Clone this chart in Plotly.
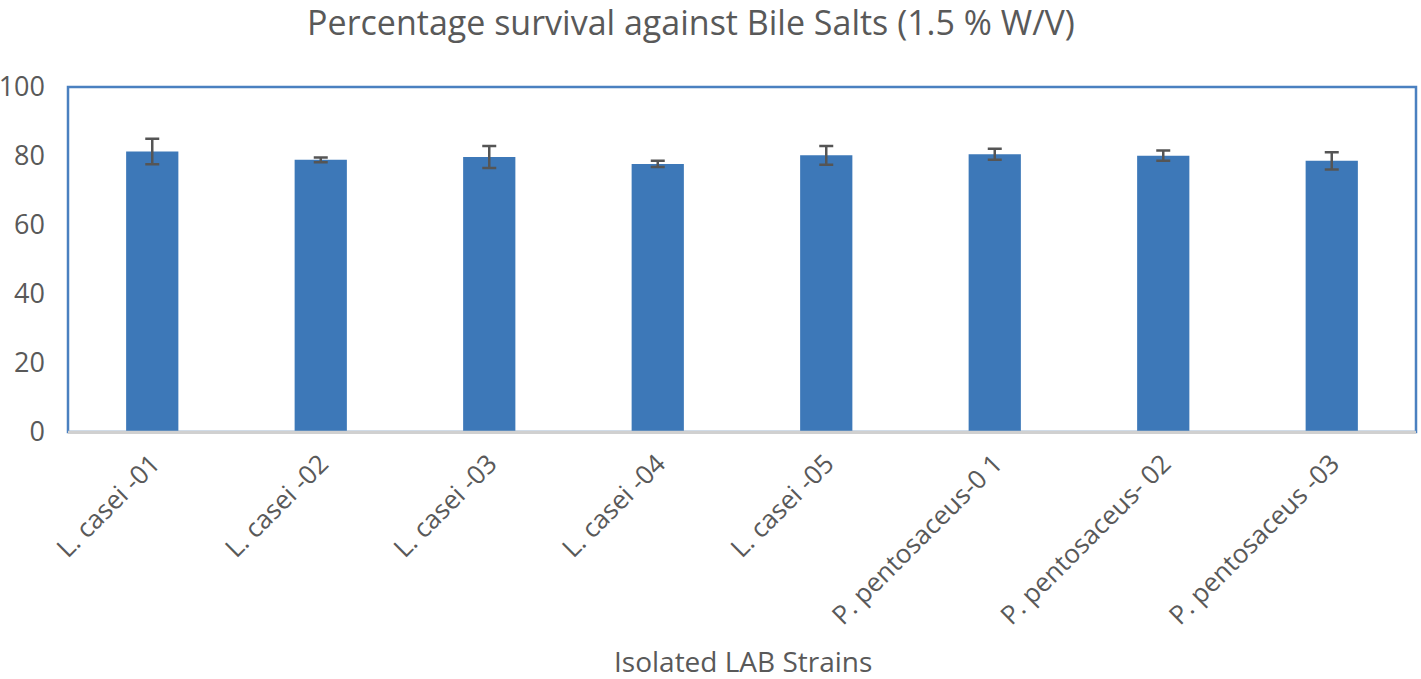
import plotly.graph_objects as go

categories = ["L. casei -01", "L. casei -02", "L. casei -03", "L. casei -04", "L. casei -05",
              "P. pentosaceus-0 1", "P. pentosaceus- 02", "P. pentosaceus -03"]
survival = [81.3, 78.9, 79.7, 77.7, 80.2, 80.5, 80.1, 78.6]
error = [3.7, 0.7, 3.2, 0.9, 2.7, 1.6, 1.5, 2.5]
y_ticks = [0, 20, 40, 60, 80, 100]

FONT = "Open Sans"
GRAY = "#595959"

fig = go.Figure()
fig.add_trace(go.Bar(
    x=categories, y=survival,
    marker=dict(color="#3d78b8", line=dict(width=0)),
    width=0.31,
    error_y=dict(type="data", array=error, visible=True, color="#555555", thickness=2.5, width=7),
))

fig.update_layout(
    width=1421, height=679,
    margin=dict(l=68, r=5, t=87, b=247, autoexpand=False),
    paper_bgcolor="white", plot_bgcolor="white",
    showlegend=False,
    title=dict(text="Percentage survival against Bile Salts (1.5 % W/V)",
               xref="paper", x=(691 - 68) / 1348, xanchor="center", y=1 - 23 / 679, yanchor="middle",
               font=dict(family=FONT, size=34, color=GRAY)),
    font=dict(family=FONT, color=GRAY),
)
fig.update_xaxes(
    tickangle=-45, tickfont=dict(size=26, color=GRAY),
    showline=True, linecolor="#d0d0d0", linewidth=2,
    showgrid=False, ticks="", automargin=False,
    ticklabelstandoff=4,
)
fig.update_yaxes(
    range=[0, 100], tickvals=y_ticks, tickfont=dict(size=27, color=GRAY),
    showgrid=False, zeroline=False, showline=False, ticks="",
    ticklabelstandoff=22, automargin=False,
)
fig.add_annotation(text="Isolated LAB Strains", xref="paper", yref="paper", x=(743 - 68) / 1348, y=0,
                   xanchor="center", yanchor="middle", yshift=-229, showarrow=False,
                   font=dict(family=FONT, size=28, color=GRAY))
fig.add_shape(type="rect", xref="paper", yref="paper", x0=0, x1=1, y0=0, y1=1,
              line=dict(color="#4a80c0", width=2.5), layer="below")
fig.add_shape(type="line", xref="paper", yref="paper", x0=0, x1=1, y0=0, y1=0,
              line=dict(color="#d0d0d0", width=2.5))

fig.write_html("out.html", config={"displayModeBar": False})

with open("out.html", "r", encoding="utf-8") as f:
    html = f.read()
html = html.replace("<head>", "<head><style>html,body{margin:0;padding:0;overflow:hidden;}</style>", 1)
with open("out.html", "w", encoding="utf-8") as f:
    f.write(html)
